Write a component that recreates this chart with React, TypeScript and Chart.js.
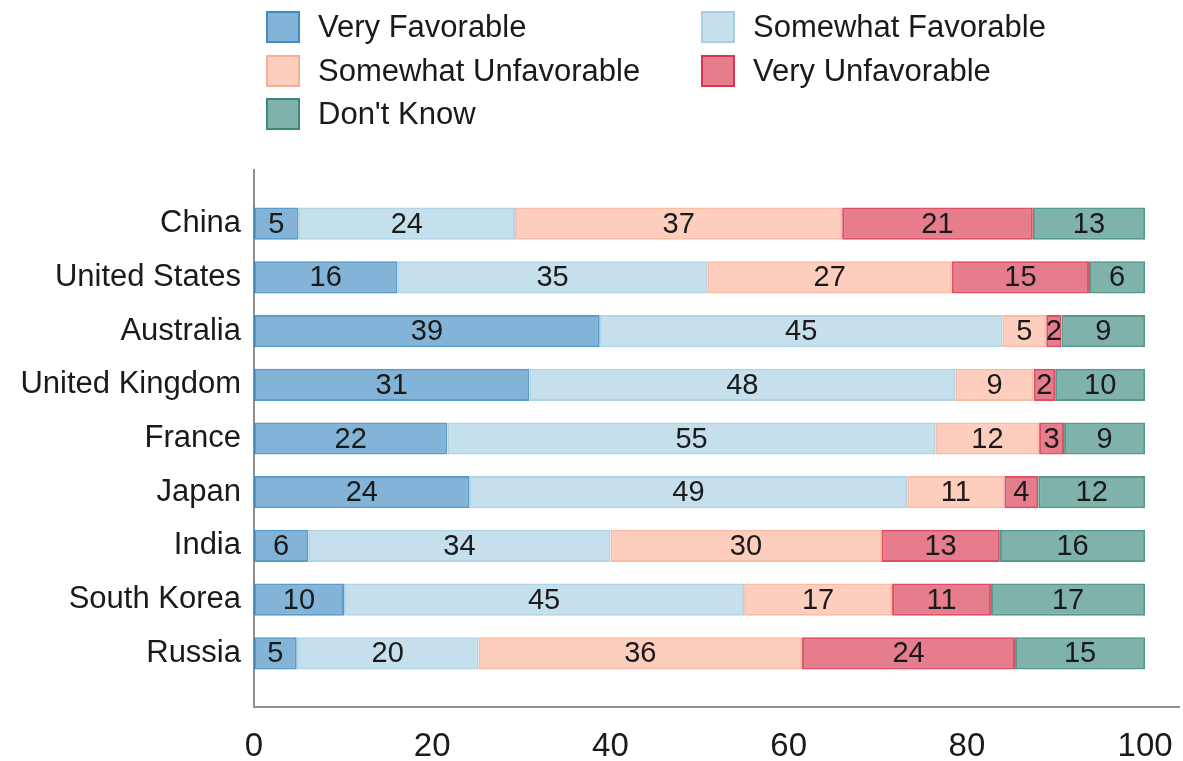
import React, { useEffect, useRef } from 'react';
import { Chart, registerables } from 'chart.js';

Chart.register(...registerables);

const COUNTRIES = ['China', 'United States', 'Australia', 'United Kingdom', 'France', 'Japan', 'India', 'South Korea', 'Russia'];
const SERIES_NAMES = ['Very Favorable', 'Somewhat Favorable', 'Somewhat Unfavorable', 'Very Unfavorable', "Don't Know"];
const VERY_FAVORABLE = [5.0, 16.1, 38.8, 30.9, 21.7, 24.2, 6.1, 10.1, 4.8];
const SOMEWHAT_FAVORABLE = [24.3, 34.8, 45.2, 47.8, 54.8, 49.1, 33.9, 44.9, 20.4];
const SOMEWHAT_UNFAVORABLE = [36.7, 27.4, 4.9, 8.8, 11.6, 10.9, 30.4, 16.6, 36.3];
const VERY_UNFAVORABLE = [21.4, 15.4, 1.7, 2.4, 2.8, 3.8, 13.3, 11.1, 23.9];
const DONT_KNOW = [12.6, 6.3, 9.4, 10.1, 9.1, 12.0, 16.3, 17.3, 14.6];
const X_TICKS = [0, 20, 40, 60, 80, 100];

const FONT = '"Liberation Sans", Arial, Helvetica, sans-serif';
const TEXT = '#1a1a1a';

const FILLS = ['rgba(49,130,189,0.6)', 'rgba(158,202,225,0.6)', 'rgba(252,174,145,0.6)', 'rgba(212,38,64,0.6)', 'rgba(42,127,113,0.6)'];
const BORDERS = ['rgba(49,130,189,0.8)', 'rgba(158,202,225,0.8)', 'rgba(249,160,128,0.7)', 'rgba(212,38,64,0.8)', 'rgba(42,127,113,0.8)'];

const valueLabels = {
  id: 'valueLabels',
  afterDatasetsDraw(chart: any) {
    const ctx = chart.ctx;
    ctx.save();
    ctx.font = `29px ${FONT}`;
    ctx.fillStyle = TEXT;
    ctx.textAlign = 'center';
    ctx.textBaseline = 'middle';
    chart.data.datasets.forEach((ds: any, i: number) => {
      const meta = chart.getDatasetMeta(i);
      meta.data.forEach((el: any, j: number) => {
        const v = ds.data[j];
        if (v == null) return;
        const p = el.getProps(['x', 'base', 'y'], true);
        ctx.fillText(String(Math.round(v)), (p.x + p.base) / 2, p.y + 1);
      });
    });
    ctx.restore();
  },
};

const gridLegend = {
  id: 'gridLegend',
  afterDraw(chart: any) {
    const ctx = chart.ctx;
    const cols = [266, 701];
    const rows = [27, 71, 114];
    ctx.save();
    chart.data.datasets.forEach((ds: any, i: number) => {
      const x = cols[i % 2];
      const yc = rows[Math.floor(i / 2)];
      ctx.fillStyle = ds.backgroundColor;
      ctx.fillRect(x, yc - 16, 34, 32);
      ctx.strokeStyle = ds.borderColor;
      ctx.lineWidth = 2;
      ctx.strokeRect(x + 1, yc - 15, 32, 30);
      ctx.fillStyle = TEXT;
      ctx.font = `31px ${FONT}`;
      ctx.textAlign = 'left';
      ctx.textBaseline = 'middle';
      ctx.fillText(ds.label, x + 52, yc + 1);
    });
    ctx.restore();
  },
};

export default function App() {
  const ref = useRef<HTMLCanvasElement>(null);

  useEffect(() => {
    if (!ref.current) return;
    const series = [VERY_FAVORABLE, SOMEWHAT_FAVORABLE, SOMEWHAT_UNFAVORABLE, VERY_UNFAVORABLE, DONT_KNOW];
    const chart = new Chart(ref.current, {
      type: 'bar',
      data: {
        labels: ['', ...COUNTRIES, ''],
        datasets: series.map((vals, i) => ({
          label: SERIES_NAMES[i],
          data: [null, ...vals, null],
          backgroundColor: FILLS[i],
          borderColor: BORDERS[i],
          borderWidth: 2,
          borderSkipped: false,
          barPercentage: 0.6,
          categoryPercentage: 1,
        })),
      },
      options: {
        indexAxis: 'y',
        animation: false,
        responsive: true,
        maintainAspectRatio: false,
        layout: { padding: { top: 170, right: 4, left: 0, bottom: 0 } },
        plugins: { legend: { display: false }, tooltip: { enabled: false } },
        scales: {
          x: {
            stacked: true,
            min: 0,
            max: 103.8,
            grid: { display: false, drawTicks: false },
            border: { display: true, color: '#8f8f8f', width: 2 },
            ticks: { padding: 20, color: TEXT, font: { size: 33, family: FONT } },
            afterBuildTicks(s: any) {
              s.ticks = X_TICKS.map((v) => ({ value: v }));
            },
            afterFit(s: any) {
              s.height = 54;
              s.paddingLeft = 0;
              s.paddingRight = 0;
            },
          },
          y: {
            type: 'category',
            stacked: true,
            offset: false,
            grid: { display: false, drawTicks: false },
            border: { display: true, color: '#8f8f8f', width: 2 },
            ticks: { padding: 13, autoSkip: false, color: TEXT, font: { size: 31, family: FONT } },
            afterFit(s: any) {
              s.width = 254;
              s.paddingTop = 0;
              s.paddingBottom = 0;
            },
          },
        },
      } as any,
      plugins: [valueLabels, gridLegend],
    });
    return () => chart.destroy();
  }, []);

  return (
    <div style={{ position: 'fixed', left: 0, top: 0, width: 1183, height: 761, background: '#fff' }}>
      <canvas ref={ref} />
    </div>
  );
}
